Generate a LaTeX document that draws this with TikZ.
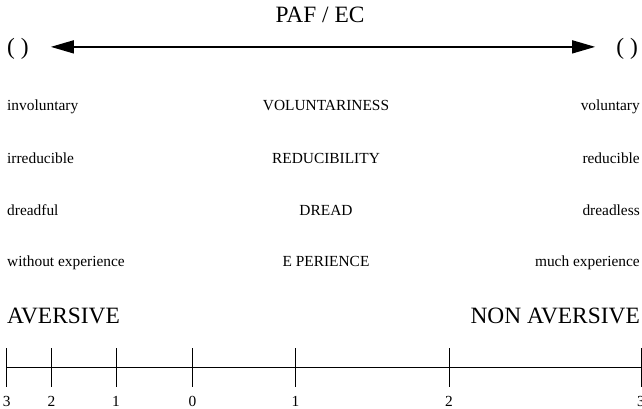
\documentclass[tikz,border=0pt]{standalone}
\usepackage{fontspec}
\setmainfont{Liberation Serif}
\usetikzlibrary{arrows.meta}

\begin{document}
\begin{tikzpicture}[x=1pt, y=-1pt,
  small/.style={inner sep=0pt, font=\fontsize{15.4}{18}\selectfont},
  big/.style={inner sep=0pt, font=\fontsize{23.4}{27}\selectfont},
  bigtip/.style={{Triangle[length=23pt,width=13pt]}-{Triangle[length=23pt,width=13pt]}, line width=1.5pt}]
\useasboundingbox (0,0) rectangle (642,409);
% title and double arrow
\node[big, anchor=base] (PE) at (320,23) {PAF / EC};
\node[big, anchor=base west] (LP) at (7,55) {( )};
\node[big, anchor=base east] (RP) at (638,55) {( )};
\draw[bigtip, shorten <=22pt, shorten >=21pt] ([yshift=2.5pt]LP.east) -- ([yshift=2.5pt]RP.west);
% rows
\node[small, anchor=base west] (invol) at (7,111) {involuntary};
\node[small, anchor=base] (VOL) at (326,111) {VOLUNTARINESS};
\node[small, anchor=base east] (vol) at (640,111) {voluntary};
\node[small, anchor=base west] (irred) at (7,163) {irreducible};
\node[small, anchor=base] (RED) at (326,163) {REDUCIBILITY};
\node[small, anchor=base east] (red) at (640,163) {reducible};
\node[small, anchor=base west] (dreadf) at (7,215) {dreadful};
\node[small, anchor=base] (DRE) at (326,215) {DREAD};
\node[small, anchor=base east] (dreadl) at (640,215) {dreadless};
\node[small, anchor=base west] (noexp) at (7,266) {without experience};
\node[small, anchor=base] (EXP) at (326,266) {E PERIENCE};
\node[small, anchor=base east] (muchexp) at (640,266) {much experience};
% scale
\node[big, anchor=base west] (AV) at (7,323) {AVERSIVE};
\node[big, anchor=base east] (NAV) at (640,323) {NON AVERSIVE};
\draw[line width=0.8pt] (6.7,367.7) -- (641,367.7);
\foreach \x/\l [count=\i] in {6.7/3, 51.5/2, 116/1, 192.5/0, 295.5/1, 449/2, 641/3} {
  \draw[line width=0.8pt] (\x,348.3) -- (\x,386.7);
  \node[small, anchor=base] (lab\i) at (\x,406.5) {\l};
}
\end{tikzpicture}
\end{document}
